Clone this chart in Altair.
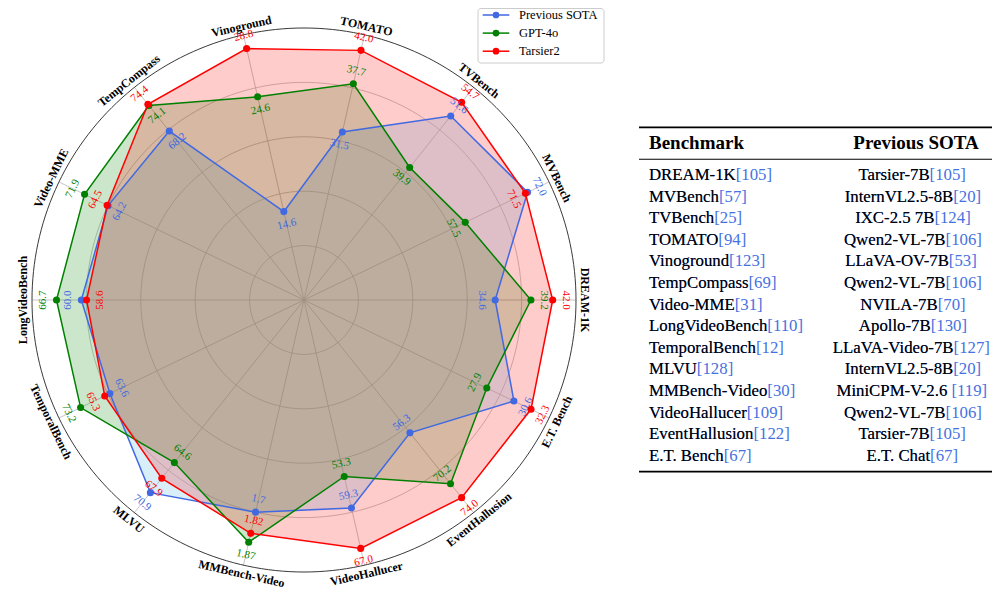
import math
import numpy as np
import pandas as pd
import altair as alt

# ---------------- data ----------------
benchmarks = ["DREAM-1K", "MVBench", "TVBench", "TOMATO", "Vinoground", "TempCompass",
              "Video-MME", "LongVideoBench", "TemporalBench", "MLVU", "MMBench-Video",
              "VideoHallucer", "EventHallusion", "E.T. Bench"]
series_names = ["Previous SOTA", "GPT-4o", "Tarsier2"]
prev_sota = [34.6, 72.0, 51.6, 31.5, 14.6, 68.2, 64.2, 60.0, 63.6, 70.9, 1.7, 59.3, 56.3, 30.6]
gpt4o = [39.2, 57.5, 39.9, 37.7, 24.6, 74.1, 71.9, 66.7, 73.2, 64.6, 1.87, 53.3, 70.2, 27.9]
tarsier2 = [42.0, 71.5, 54.7, 42.0, 28.8, 74.4, 64.5, 58.6, 65.3, 67.9, 1.82, 67.0, 74.0, 32.3]
series_values = [prev_sota, gpt4o, tarsier2]

# per-axis radial ranges (scale of each spoke)
axis_lo = [10, 20, 9.8, 9.9, 6.9, 29.2, 0, 0, 0, 30.5, 0.5, 19.7, 20, 9.7]
axis_hi = [45, 77, 58.1, 44.0, 30.0, 78.3, 80.3, 73.3, 80.3, 75.1, 2.0, 70.2, 78.1, 34.1]

# value label side (+1 outside the point, -1 inside)
label_side = [
    [-1, 1, 1, -1, -1, -1, -1, 1, -1, 1, -1, -1, -1, 1],
    [1, -1, -1, 1, -1, -1, 1, 1, 1, -1, 1, -1, -1, -1],
    [1, -1, 1, 1, 1, 1, 1, -1, 1, 1, -1, 1, 1, 1],
]

# table
table_bench = ["DREAM-1K", "MVBench", "TVBench", "TOMATO", "Vinoground", "TempCompass",
               "Video-MME", "LongVideoBench", "TemporalBench", "MLVU", "MMBench-Video",
               "VideoHallucer", "EventHallusion", "E.T. Bench"]
table_bench_ref = ["[105]", "[57]", "[25]", "[94]", "[123]", "[69]", "[31]", "[110]",
                   "[12]", "[128]", "[30]", "[109]", "[122]", "[67]"]
table_sota = ["Tarsier-7B", "InternVL2.5-8B", "IXC-2.5 7B", "Qwen2-VL-7B", "LLaVA-OV-7B",
              "Qwen2-VL-7B", "NVILA-7B", "Apollo-7B", "LLaVA-Video-7B", "InternVL2.5-8B",
              "MiniCPM-V-2.6", "Qwen2-VL-7B", "Tarsier-7B", "E.T. Chat"]
table_sota_ref = ["[105]", "[20]", "[124]", "[106]", "[53]", "[106]", "[70]", "[130]",
                  "[127]", "[20]", " [119]", "[106]", "[105]", "[67]"]
table_headers = ["Benchmark", "Previous SOTA"]

# ---------------- styles / layout ----------------
line_colors = ["#4169E1", "#008000", "#FF0000"]
fill_colors = ["#87CEEB", "#008000", "#FF0000"]
fill_alpha = [0.32, 0.2, 0.2]
FONT = "Liberation Serif"
W, H = 984, 583
CX, CY, R = 296.0, 292.0, 272.0
xdom = [-CX / R, (W - CX) / R]
ydom = [-(H - CY) / R, CY / R]
XS = alt.Scale(domain=xdom, nice=False, zero=False)
YS = alt.Scale(domain=ydom, nice=False, zero=False)

n = len(benchmarks)
angles = [i * 2 * math.pi / n for i in range(n)]


def text_rot(theta):
    d = 90 - math.degrees(theta)
    if d < -90:
        d += 180
    return d


def xy_enc():
    return dict(x=alt.X("x:Q", scale=XS, axis=None), y=alt.Y("y:Q", scale=YS, axis=None))


# grid circles
grid_rows = []
ts = np.linspace(0, 2 * math.pi, 241)
for k, rr in enumerate([0.2, 0.4, 0.6, 0.8, 1.0]):
    for j, t in enumerate(ts):
        grid_rows.append({"ring": k, "o": j, "x": rr * math.cos(t), "y": rr * math.sin(t),
                          "outer": rr == 1.0})
grid_df = pd.DataFrame(grid_rows)

spoke_df = pd.DataFrame({"x": [0.0] * n, "y": [0.0] * n,
                         "x2": [math.cos(a) for a in angles],
                         "y2": [math.sin(a) for a in angles]})

layers = []
layers.append(alt.Chart(grid_df[~grid_df.outer]).mark_line(color="#b8b8b8", strokeWidth=0.8).encode(
    **xy_enc(), detail="ring:N", order="o:Q"))
layers.append(alt.Chart(spoke_df).mark_rule(color="#b8b8b8", strokeWidth=0.8).encode(
    **xy_enc(), x2="x2:Q", y2="y2:Q"))

fill_layers, line_layers, label_layers = [], [], []
for s, name in enumerate(series_names):
    vals = series_values[s]
    rows = []
    lab = []
    for i in range(n + 1):
        ii = i % n
        rn = (vals[ii] - axis_lo[ii]) / (axis_hi[ii] - axis_lo[ii])
        rows.append({"o": i, "x": rn * math.cos(angles[ii]), "y": rn * math.sin(angles[ii])})
        if i < n:
            rl = rn + label_side[s][ii] * 0.048
            lab.append({"x": rl * math.cos(angles[ii]), "y": rl * math.sin(angles[ii]),
                        "t": str(vals[ii]), "rot": text_rot(angles[ii])})
    pdf = pd.DataFrame(rows)
    ldf = pd.DataFrame(lab)
    fill_layers.append(alt.Chart(pdf).mark_line(
        fill=fill_colors[s], fillOpacity=fill_alpha[s], stroke=line_colors[s], strokeOpacity=0,
        strokeWidth=0.1
    ).encode(**xy_enc(), order="o:Q"))
    line_layers.append(alt.Chart(pdf).mark_line(
        stroke=line_colors[s], strokeWidth=1.5
    ).encode(**xy_enc(), order="o:Q"))
    line_layers.append(alt.Chart(pdf[pdf.o < n]).mark_point(
        filled=True, size=50, color=line_colors[s], opacity=1
    ).encode(**xy_enc()))
    label_layers.append(alt.Chart(ldf).mark_text(
        font=FONT, fontSize=11, color=line_colors[s], align="center", baseline="middle"
    ).encode(**xy_enc(), text="t:N", angle=alt.Angle("rot:Q", scale=None)))

layers += fill_layers
layers.append(alt.Chart(grid_df[grid_df.outer]).mark_line(color="#222222", strokeWidth=0.9).encode(
    **xy_enc(), order="o:Q"))
layers += line_layers
layers += label_layers

# axis names
LR = 1.032
ax_df = pd.DataFrame({"name": benchmarks,
                      "x": [LR * math.cos(a) for a in angles],
                      "y": [LR * math.sin(a) for a in angles],
                      "rot": [text_rot(a) for a in angles]})
layers.append(alt.Chart(ax_df).mark_text(
    font=FONT, fontSize=12, fontWeight="bold", color="black", align="center", baseline="middle"
).encode(**xy_enc(), text="name:N", angle=alt.Angle("rot:Q", scale=None)))

# ---------------- legend (drawn) ----------------
box = pd.DataFrame({"a": [0]})
layers.append(alt.Chart(box).mark_rect(fill="white", fillOpacity=0.85, stroke="#cccccc",
                                       strokeWidth=1, cornerRadius=3).encode(
    x=alt.value(470), x2=alt.value(596), y=alt.value(0.5), y2=alt.value(55)))
for s, name in enumerate(series_names):
    yy = 7 + 18.1 * s
    one = pd.DataFrame({"t": [name]})
    layers.append(alt.Chart(one).mark_rule(color=line_colors[s], strokeWidth=1.5).encode(
        x=alt.value(474.7), x2=alt.value(501.3), y=alt.value(yy)))
    layers.append(alt.Chart(one).mark_point(filled=True, size=45, color=line_colors[s], opacity=1).encode(
        x=alt.value(488), y=alt.value(yy)))
    layers.append(alt.Chart(one).mark_text(font=FONT, fontSize=12.5, align="left", baseline="middle",
                                           color="black").encode(
        x=alt.value(511), y=alt.value(yy), text="t:N"))

# ---------------- table ----------------
TW = {" ": 250, "-": 333, ".": 250, "[": 333, "]": 333,
      "A": 722, "B": 667, "C": 667, "D": 722, "E": 611, "I": 333, "K": 722, "L": 611, "M": 889,
      "N": 722, "O": 722, "P": 556, "Q": 722, "R": 667, "S": 556, "T": 611, "U": 722, "V": 722,
      "X": 722, "a": 444, "b": 500, "c": 444, "d": 500, "e": 444, "g": 500, "h": 500, "i": 278,
      "l": 278, "m": 778, "n": 500, "o": 500, "p": 500, "r": 333, "s": 389, "t": 278, "u": 500,
      "v": 500, "w": 722}


def text_w(s, fs):
    return sum(TW.get(c, 500) for c in s) * fs / 1000.0


FS = 16.8
ROW0, ROWSTEP = 167.0, 21.6
LEFT_X, RIGHT_C = 641.0, 905.0
cite_blue = "#4672df"

rules = pd.DataFrame({"y": [119.3, 151.3, 463.7], "w": [1.8, 1.1, 1.8]})
for _, r in rules.iterrows():
    layers.append(alt.Chart(pd.DataFrame({"a": [0]})).mark_rule(color="black", strokeWidth=r.w).encode(
        x=alt.value(631), x2=alt.value(984), y=alt.value(r.y)))

hdr = pd.DataFrame({"t": table_headers})
layers.append(alt.Chart(hdr.iloc[[0]]).mark_text(font=FONT, fontSize=19, fontWeight="bold",
                                                 align="left", baseline="middle", color="black").encode(
    x=alt.value(LEFT_X), y=alt.value(135.3), text="t:N"))
layers.append(alt.Chart(hdr.iloc[[1]]).mark_text(font=FONT, fontSize=19, fontWeight="bold",
                                                 align="center", baseline="middle", color="black").encode(
    x=alt.value(RIGHT_C + 3), y=alt.value(135.3), text="t:N"))

trows = []
for i in range(len(table_bench)):
    full_r = table_sota[i] + table_sota_ref[i]
    trows.append({"y": ROW0 + ROWSTEP * i,
                  "lname": table_bench[i], "lfull": table_bench[i] + table_bench_ref[i],
                  "lx": LEFT_X,
                  "rname": table_sota[i], "rfull": full_r,
                  "rx": RIGHT_C - text_w(full_r, FS) / 2})
tdf = pd.DataFrame(trows)
for col_full, col_name, col_x in [("lfull", "lname", "lx"), ("rfull", "rname", "rx")]:
    layers.append(alt.Chart(tdf).mark_text(font=FONT, fontSize=FS, align="left", baseline="middle",
                                           color=cite_blue).encode(
        x=alt.X(f"{col_x}:Q", scale=None), y=alt.Y("y:Q", scale=None), text=f"{col_full}:N"))
    layers.append(alt.Chart(tdf).mark_text(font=FONT, fontSize=FS, align="left", baseline="middle",
                                           color="black").encode(
        x=alt.X(f"{col_x}:Q", scale=None), y=alt.Y("y:Q", scale=None), text=f"{col_name}:N"))

chart = alt.layer(*layers).properties(width=W, height=H, padding=0, autosize="none").configure_view(
    stroke=None).resolve_scale(x="independent", y="independent")

chart.save("out.html", embed_options={"renderer": "svg", "actions": False})
